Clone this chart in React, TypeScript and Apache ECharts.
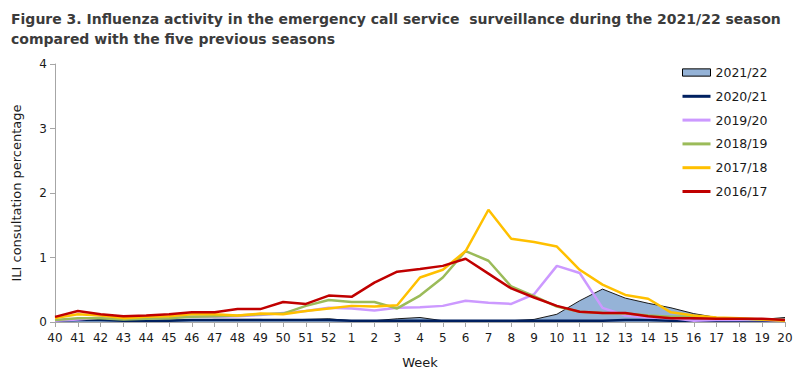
import React, { useEffect, useRef } from "react";
import * as echarts from "echarts";

const weeks = [
  "40", "41", "42", "43", "44", "45", "46", "47", "48", "49", "50", "51", "52",
  "1", "2", "3", "4", "5", "6", "7", "8", "9", "10", "11", "12", "13", "14", "15", "16", "17", "18", "19", "20",
];

const s2122 = [0.03, 0.03, 0.03, 0.02, 0.03, 0.03, 0.03, 0.04, 0.04, 0.04, 0.03, 0.04, 0.05,
  0.02, 0.02, 0.05, 0.07, 0.02, 0.01, 0.01, 0.02, 0.04, 0.12, 0.33, 0.51, 0.37, 0.29, 0.22, 0.13, 0.07, 0.05, 0.04, 0.07];
const s2021 = [0.02, 0.03, 0.03, 0.02, 0.02, 0.02, 0.03, 0.03, 0.03, 0.03, 0.03, 0.03, 0.03,
  0.02, 0.02, 0.02, 0.02, 0.02, 0.02, 0.02, 0.02, 0.02, 0.02, 0.02, 0.02, 0.03, 0.03, 0.02, 0.02, 0.02, 0.02, 0.02, 0.02];
const s1920 = [0.02, 0.04, 0.07, 0.05, 0.05, 0.07, 0.08, 0.08, 0.09, 0.11, 0.14, 0.17, 0.22,
  0.21, 0.18, 0.22, 0.23, 0.25, 0.33, 0.3, 0.28, 0.43, 0.87, 0.76, 0.22, 0.1, 0.07, 0.06, 0.02, 0.03, 0.03, 0.03, 0.02];
const s1819 = [0.03, 0.06, 0.06, 0.04, 0.05, 0.06, 0.08, 0.09, 0.1, 0.12, 0.13, 0.25, 0.34,
  0.31, 0.31, 0.21, 0.41, 0.69, 1.1, 0.95, 0.55, 0.4, 0.24, 0.16, 0.14, 0.13, 0.1, 0.08, 0.08, 0.06, 0.05, 0.04, 0.03];
const s1718 = [0.06, 0.12, 0.1, 0.06, 0.08, 0.09, 0.12, 0.12, 0.1, 0.13, 0.12, 0.17, 0.21,
  0.25, 0.24, 0.26, 0.69, 0.81, 1.1, 1.74, 1.29, 1.24, 1.17, 0.81, 0.58, 0.42, 0.36, 0.15, 0.1, 0.07, 0.06, 0.04, 0.02];
const s1617 = [0.08, 0.17, 0.12, 0.09, 0.1, 0.12, 0.15, 0.15, 0.2, 0.2, 0.31, 0.28, 0.41,
  0.39, 0.61, 0.78, 0.82, 0.87, 0.98, 0.75, 0.52, 0.38, 0.25, 0.16, 0.14, 0.14, 0.09, 0.06, 0.06, 0.05, 0.05, 0.05, 0.03];

const yTicks = [0, 1, 2, 3, 4];

const FONT = "'DejaVu Sans', sans-serif";
const lineIcon = "path://M0,0 L28,0 L28,3 L0,3 Z";

export default function App() {
  const ref = useRef<HTMLDivElement>(null);
  useEffect(() => {
    if (!ref.current) return;
    const chart = echarts.init(ref.current, undefined, { renderer: "svg" });
    const lineSeries = (name: string, data: number[], color: string) => ({
      name,
      type: "line",
      data,
      symbol: "none",
      color,
      lineStyle: { color, width: 2.5 },
    });
    chart.setOption({
      animation: false,
      textStyle: { fontFamily: FONT },
      title: {
        text: "Figure 3. Influenza activity in the emergency call service  surveillance during the 2021/22 season\ncompared with the five previous seasons",
        left: 6,
        top: 4,
        textStyle: {
          fontFamily: FONT,
          fontSize: 14,
          fontWeight: "bold",
          color: "#3b3b3b",
          lineHeight: 20,
        },
      },
      grid: { left: 55, right: 15, top: 64, bottom: 52, containLabel: false },
      legend: {
        orient: "vertical",
        left: 682,
        top: 66,
        padding: 0,
        itemWidth: 28,
        itemHeight: 10,
        itemGap: 10.8,
        textStyle: { fontFamily: FONT, fontSize: 12.5, color: "#1a1a1a" },
        data: [
          {
            name: "2021/22",
            icon: "path://M0,0 L27,0 L27,7 L0,7 Z",
            itemStyle: { color: "#95b3d7", borderColor: "#000", borderWidth: 1 },
          },
          { name: "2020/21", icon: lineIcon, itemStyle: { color: "#002060", borderWidth: 0 } },
          { name: "2019/20", icon: lineIcon, itemStyle: { color: "#cc99ff", borderWidth: 0 } },
          { name: "2018/19", icon: lineIcon, itemStyle: { color: "#9bbb59", borderWidth: 0 } },
          { name: "2017/18", icon: lineIcon, itemStyle: { color: "#ffc000", borderWidth: 0 } },
          { name: "2016/17", icon: lineIcon, itemStyle: { color: "#c00000", borderWidth: 0 } },
        ],
      },
      xAxis: {
        type: "category",
        data: weeks,
        boundaryGap: false,
        name: "Week",
        nameLocation: "middle",
        nameGap: 34,
        nameTextStyle: { fontFamily: FONT, fontSize: 13, color: "#1a1a1a" },
        axisLine: { lineStyle: { color: "#a6a6a6", width: 1 } },
        axisTick: { show: true, interval: 0, length: 5, lineStyle: { color: "#a6a6a6" } },
        axisLabel: { interval: 0, margin: 10, fontFamily: FONT, fontSize: 12, color: "#1a1a1a" },
        splitLine: { show: false },
      },
      yAxis: {
        type: "value",
        min: yTicks[0],
        max: yTicks[yTicks.length - 1],
        interval: 1,
        name: "ILI consultation percentage",
        nameLocation: "middle",
        nameGap: 32,
        nameTextStyle: { fontFamily: FONT, fontSize: 13, color: "#1a1a1a" },
        axisLine: { show: true, lineStyle: { color: "#a6a6a6", width: 1 } },
        axisTick: { show: true, length: 5, lineStyle: { color: "#a6a6a6" } },
        axisLabel: { margin: 8, fontFamily: FONT, fontSize: 12, color: "#1a1a1a" },
        splitLine: { show: false },
      },
      series: [
        {
          name: "2021/22",
          type: "line",
          data: s2122,
          symbol: "none",
          color: "#95b3d7",
          lineStyle: { color: "#1a1a1a", width: 1 },
          areaStyle: { color: "#95b3d7", opacity: 1 },
          z: 1,
        },
        lineSeries("2020/21", s2021, "#002060"),
        lineSeries("2019/20", s1920, "#cc99ff"),
        lineSeries("2018/19", s1819, "#9bbb59"),
        lineSeries("2017/18", s1718, "#ffc000"),
        lineSeries("2016/17", s1617, "#c00000"),
      ],
    });
    return () => chart.dispose();
  }, []);
  return (
    <div
      ref={ref}
      style={{ position: "fixed", left: 0, top: 0, width: 800, height: 374, background: "#fff" }}
    />
  );
}
